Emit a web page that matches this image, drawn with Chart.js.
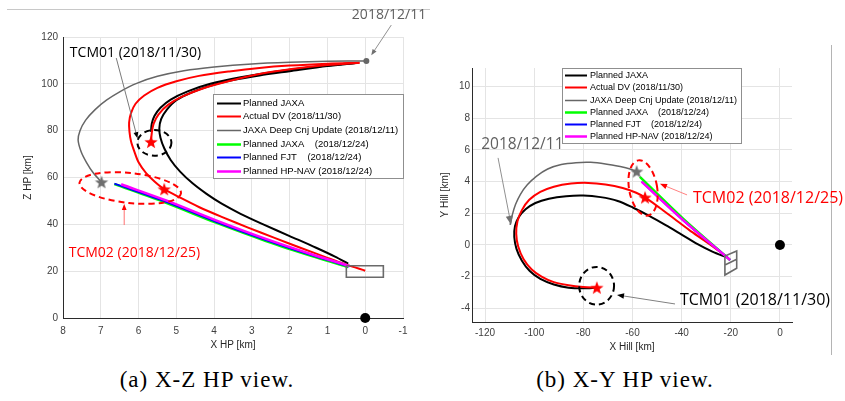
<!DOCTYPE html>
<html>
<head>
<meta charset="utf-8">
<script src="https://cdn.jsdelivr.net/npm/chart.js@4.4.0/dist/chart.umd.min.js"></script>
<style>
  html, body { margin: 0; padding: 0; background: #fff; }
  body { width: 845px; height: 401px; position: relative; overflow: hidden; }
  #wrapA { position: absolute; left: 0; top: 0; width: 425px; height: 365px; }
  #wrapB { position: absolute; left: 425px; top: 0; width: 420px; height: 365px; }
  .rule-h { position: absolute; left: 7px; top: 9px; width: 423px; height: 1px; background: #c8c8c8; }
  .rule-v { position: absolute; left: 831px; top: 45px; width: 1px; height: 310px; background: #b4b4b4; }
  .cap { position: absolute; top: 368px; width: 300px; line-height: 24px; text-align: center;
         font-family: "Liberation Serif", "DejaVu Serif", serif; font-size: 23px; letter-spacing: 1px; color: #000; }
</style>
</head>
<body>
<div class="rule-h"></div>
<div class="rule-v"></div>
<div id="wrapA"><canvas id="chartXZ" width="425" height="365"></canvas></div>
<div id="wrapB"><canvas id="chartXY" width="420" height="365"></canvas></div>
<div class="cap" style="left:57px">(a) X-Z HP view.</div>
<div class="cap" style="left:475px">(b) X-Y HP view.</div>
<script>
// legend rows (same order in both views)
const seriesNames = ['Planned JAXA', 'Actual DV (2018/11/30)', 'JAXA Deep Cnj Update (2018/12/11)',
  'Planned JAXA    (2018/12/24)', 'Planned FJT    (2018/12/24)', 'Planned HP-NAV (2018/12/24)'];
const seriesColors = ['#000000', '#ff0000', '#666666', '#00ff00', '#0000ff', '#ff00ff'];
const seriesWidths = [2, 2, 1.5, 2.5, 2, 2.5];

// ---- X-Z HP view, points are [X HP, Z HP] in km ----
const xzPlanJaxaUp = [[5.67,79.5],[5.65,83],[5.58,86.3],[5.42,89.8],[5.15,93.3],[4.7,96.8],[4.1,100],
  [3.3,102.8],[2.4,105.2],[1.5,107],[0.8,108.2],[0.25,108.9]];
const xzPlanJaxaDown = [[0.25,108.9],[1,107.6],[2,105.4],[2.8,103.6],[3.5,101.6],[4.1,99.2],[4.6,96.3],
  [5.0,93],[5.25,89],[5.4,85],[5.45,81],[5.42,77],[5.32,72.5],[5.15,67.5],[4.9,62.5],[4.57,57.5],
  [4.2,53],[3.8,48.8],[3.3,44.5],[2.7,40],[2.0,35],[1.3,30],[0.8,26.2],[0.45,23.2]];
const xzActualUp = [[5.67,75.2],[5.65,79],[5.6,83],[5.47,87],[5.22,91],[4.85,94.5],[4.3,98],
  [3.6,101.2],[2.8,104.2],[1.9,106.4],[1.0,108],[0.15,109]];
const xzActualDown = [[0.15,109],[1,108.6],[2,107.8],[2.8,106.8],[3.6,105.3],[4.4,103.4],[5.0,101.1],
  [5.5,98.3],[5.85,95],[6.08,91.5],[6.2,87.5],[6.25,83.5],[6.24,79.5],[6.2,75.5],[6.12,71.5],[6.0,66.5],
  [5.8,61.9],[5.57,58.2],[5.32,55],[4.9,51.4],[4.39,47.3],[3.8,43.2],[3.1,38.6],[2.4,34.2],[1.7,29.9],
  [1.0,25.7],[0.5,22.8],[0,20.2]];
const xzDeepCnj = [[-0.03,109.8],[1,109.6],[2,109.2],[3,108.5],[4,107.2],[4.8,105.6],[5.5,103.2],
  [6.05,100.2],[6.5,96.6],[6.85,93],[7.15,89],[7.4,84.5],[7.55,80],[7.6,76],[7.52,71],[7.38,66.5],
  [7.2,62],[6.98,58]];
const xzJaxa1224 = [[6.64,57.2],[5.27,49.2],[3.95,40.7],[2.63,32.9],[1.3,25.9],[0.45,21.8]];
const xzFjt1224 = [[6.64,57.4],[5.27,49.6],[3.95,41.1],[2.63,33.3],[1.3,26.2],[0.42,22.0]];
const xzHpnav1224 = [[6.46,57.1],[5.27,50.2],[3.95,41.7],[2.63,33.8],[1.3,26.6],[0.42,22.2]];
const xzTargetBox = [[0.5,22.3],[-0.48,22.3],[-0.48,17.4],[0.5,17.4],[0.5,22.3]];
const xzTcmStars = [[5.67,75.2],[5.32,55.0]];
const xzGrayStar = [[6.98,58.0]];
const xzStartDot = [[-0.03,109.8]];
const xzOrigin = [[0,0]];

// ---- X-Y HP view, points are [X Hill, Y Hill] in km ----
const xyPlanJaxa = [[-74.5,-2.7],[-80,-2.74],[-86,-2.7],[-92,-2.5],[-97.5,-2.15],[-101.8,-1.65],[-105,-1.0],
  [-107.2,-0.25],[-108.1,0.5],[-107.8,1.2],[-106.3,1.75],[-103.5,2.25],[-99.5,2.65],[-94,2.92],[-87,3.08],
  [-80,3.12],[-73,3.02],[-66,2.78],[-59.7,2.35],[-53,1.82],[-46.5,1.25],[-40,0.65],[-33.5,0.05],
  [-27.5,-0.42],[-21.7,-0.78]];
const xyActual = [[-74.5,-2.7],[-80,-2.66],[-86,-2.55],[-92,-2.35],[-97,-2.0],[-101,-1.55],[-104.3,-0.9],
  [-106.5,-0.1],[-107.3,0.7],[-106.8,1.5],[-105,2.2],[-102,2.85],[-97.5,3.35],[-92,3.68],[-85,3.88],
  [-78,3.92],[-71,3.82],[-64,3.6],[-58.5,3.3],[-54.9,3.0],[-49,2.35],[-43,1.65],[-37,0.95],[-31,0.3],
  [-26,-0.25],[-21.7,-0.74]];
const xyDeepCnj = [[-109.8,1.27],[-108.9,1.9],[-107.6,2.55],[-105.6,3.2],[-102.8,3.8],[-99,4.35],[-94.5,4.8],
  [-89,5.08],[-83,5.2],[-77,5.22],[-71,5.12],[-65,4.95],[-61,4.8],[-58.3,4.64]];
const xyJaxa1224 = [[-57,4.3],[-39.3,1.65],[-20.3,-0.95]];
const xyFjt1224 = [[-56.3,4.0],[-39.3,1.55],[-20.3,-0.95]];
const xyHpnav1224 = [[-56.3,4.0],[-39.3,1.55],[-20.3,-0.95]];
const xyTargetBox = [[-22.4,-1.27],[-22.4,-0.70],[-17.6,-0.38],[-17.6,-1.47],[-22.4,-1.90],[-22.4,-1.27],[-17.6,-0.91]];
const xyTcmStars = [[-74.5,-2.7],[-54.9,3.0]];
const xyGrayStar = [[-58.3,4.64]];
const xyOrigin = [[0,0]];

Chart.defaults.font.family = 'Liberation Sans, Arial, sans-serif';

function starImage(color, r) {
  const c = document.createElement('canvas');
  const s = Math.ceil(r * 2 + 2);
  c.width = s; c.height = s;
  const g = c.getContext('2d');
  g.translate(s / 2, s / 2 + 0.6);
  g.beginPath();
  for (let i = 0; i < 10; i++) {
    const rr = i % 2 ? r * 0.42 : r;
    const a = -Math.PI / 2 + i * Math.PI / 5;
    g.lineTo(rr * Math.cos(a), rr * Math.sin(a));
  }
  g.closePath();
  g.fillStyle = color;
  g.fill();
  return c;
}
const redStar = starImage('#ff0000', 7);
const grayStar = starImage('#6e6e6e', 7);

const xyPts = arr => arr.map(p => ({ x: p[0], y: p[1] }));

function curve(pts, color, width, tension) {
  return { data: xyPts(pts), showLine: true, borderColor: color, borderWidth: width,
    pointRadius: 0, tension: tension === undefined ? 0.3 : tension, fill: false };
}
function marks(pts, style, radius, color) {
  return { data: xyPts(pts), showLine: false, pointStyle: style, pointRadius: radius,
    backgroundColor: color, borderColor: color, borderWidth: 0, clip: false };
}

function axis(o) {
  return {
    type: 'linear', position: o.pos, min: o.min, max: o.max, reverse: !!o.reverse,
    afterFit: s => { if (o.pos === 'bottom') s.height = o.size; else s.width = o.size; },
    grid: { color: '#e4e4e4', drawTicks: false },
    border: { display: true, color: '#2b2b2b', width: 1 },
    ticks: { stepSize: o.step, includeBounds: false, padding: o.pad, color: '#404040',
      font: { size: 10 }, maxRotation: 0, autoSkip: false },
    title: { display: true, text: o.title, color: '#262626', font: { size: 10 }, padding: o.titlePad }
  };
}

// boxed legend drawn inside the plot
const boxLegend = {
  id: 'boxLegend',
  afterDatasetsDraw(chart, args, o) {
    const ctx = chart.ctx;
    ctx.save();
    ctx.fillStyle = '#fff';
    ctx.fillRect(o.x, o.y, o.w, o.h);
    ctx.strokeStyle = '#8f8f8f';
    ctx.lineWidth = 1;
    ctx.strokeRect(o.x + 0.5, o.y + 0.5, o.w, o.h);
    ctx.font = o.font;
    ctx.textBaseline = 'middle';
    seriesNames.forEach((name, i) => {
      const yy = Math.round(o.y + o.first + i * o.step) + 0.5;
      ctx.strokeStyle = seriesColors[i];
      ctx.lineWidth = seriesWidths[i];
      ctx.beginPath();
      ctx.moveTo(o.x0, yy);
      ctx.lineTo(o.x1, yy);
      ctx.stroke();
      ctx.fillStyle = '#000';
      ctx.fillText(name, o.tx, yy);
    });
    ctx.restore();
  }
};

// dashed rings, callout arrows and labels, placed in data coordinates
const notes = {
  id: 'notes',
  afterDatasetsDraw(chart, args, o) {
    const { ctx, scales: { x, y } } = chart;
    const px = p => [x.getPixelForValue(p[0]), y.getPixelForValue(p[1])];
    ctx.save();
    (o.rings || []).forEach(e => {
      const [cx, cy] = px(e.at);
      const rx = Math.abs(x.getPixelForValue(e.at[0] + e.rx) - cx);
      const ry = Math.abs(y.getPixelForValue(e.at[1] + e.ry) - cy);
      ctx.beginPath();
      ctx.setLineDash([6, 4]);
      ctx.lineWidth = 2;
      ctx.strokeStyle = e.color;
      ctx.ellipse(cx, cy, rx, ry, e.rot * Math.PI / 180, 0, Math.PI * 2);
      ctx.stroke();
    });
    ctx.setLineDash([]);
    (o.arrows || []).forEach(a => {
      const [x0, y0] = px(a.from);
      const [x1, y1] = px(a.to);
      const ang = Math.atan2(y1 - y0, x1 - x0);
      const L = a.head, W = a.head * 0.4;
      ctx.strokeStyle = a.line;
      ctx.lineWidth = 1;
      ctx.beginPath();
      ctx.moveTo(x0, y0);
      ctx.lineTo(x1 - Math.cos(ang) * L * 0.7, y1 - Math.sin(ang) * L * 0.7);
      ctx.stroke();
      ctx.fillStyle = a.tip;
      ctx.beginPath();
      ctx.moveTo(x1, y1);
      ctx.lineTo(x1 - Math.cos(ang) * L - Math.sin(ang) * W, y1 - Math.sin(ang) * L + Math.cos(ang) * W);
      ctx.lineTo(x1 - Math.cos(ang) * L + Math.sin(ang) * W, y1 - Math.sin(ang) * L - Math.cos(ang) * W);
      ctx.closePath();
      ctx.fill();
    });
    (o.labels || []).forEach(t => {
      const [tx, ty] = px(t.at);
      ctx.font = t.size + 'px "Open Sans", sans-serif';
      ctx.fillStyle = t.color;
      ctx.textAlign = t.align || 'center';
      ctx.textBaseline = 'middle';
      ctx.fillText(t.text, tx, ty);
    });
    ctx.restore();
  }
};

function viewDatasets(v) {
  return [
    marks(v.origin, 'circle', 5, '#000'),
    marks(v.tcm, redStar, 7, '#ff0000'),
    marks(v.gstar, grayStar, 7, '#6e6e6e'),
    ...(v.startDot ? [marks(v.startDot, 'circle', 3, '#666666')] : []),
    curve(v.box, '#6a6a6a', 1.6, 0),
    curve(v.hpnav, seriesColors[5], seriesWidths[5]),
    curve(v.fjt, seriesColors[4], seriesWidths[4]),
    curve(v.jaxa2, seriesColors[3], seriesWidths[3]),
    curve(v.deep, seriesColors[2], seriesWidths[2]),
    ...v.actual.map(c => curve(c, seriesColors[1], seriesWidths[1])),
    ...v.plan.map(c => curve(c, seriesColors[0], seriesWidths[0]))
  ];
}

new Chart(document.getElementById('chartXZ'), {
  type: 'scatter',
  data: { datasets: viewDatasets({
    origin: xzOrigin, tcm: xzTcmStars, gstar: xzGrayStar, startDot: xzStartDot, box: xzTargetBox,
    hpnav: xzHpnav1224, fjt: xzFjt1224, jaxa2: xzJaxa1224, deep: xzDeepCnj,
    actual: [xzActualUp, xzActualDown], plan: [xzPlanJaxaUp, xzPlanJaxaDown]
  }) },
  options: {
    responsive: false, animation: false, devicePixelRatio: 1,
    layout: { padding: { left: 0, top: 37, right: 22, bottom: 0 } },
    scales: {
      x: axis({ pos: 'bottom', min: -1, max: 8, step: 1, reverse: true, size: 47, pad: 7,
        title: 'X HP [km]', titlePad: { top: 0, bottom: 14 } }),
      y: axis({ pos: 'left', min: 0, max: 120, step: 20, size: 63, pad: 5,
        title: 'Z HP [km]', titlePad: { top: 22, bottom: 0 } })
    },
    plugins: {
      legend: { display: false }, tooltip: { enabled: false },
      boxLegend: { x: 213, y: 94, w: 190, h: 84, first: 8.7, step: 13.6, x0: 217, x1: 241, tx: 243,
        font: '9.5px "Liberation Sans", Arial, sans-serif' },
      notes: {
        rings: [
          { at: [5.58, 74.8], rx: 0.45, ry: 5.5, rot: 0, color: '#000' },
          { at: [6.22, 55.5], rx: 1.35, ry: 6.4, rot: 6, color: '#ff0000' }
        ],
        arrows: [
          { from: [6.59, 111.0], to: [6.03, 76.8], line: '#7a7a7a', tip: '#000', head: 6 },
          { from: [-0.69, 125.1], to: [-0.16, 112.2], line: '#909090', tip: '#707070', head: 6 },
          { from: [6.38, 39.7], to: [6.38, 48.7], line: '#ff7070', tip: '#ff0000', head: 6 }
        ],
        labels: [
          { text: 'TCM01 (2018/11/30)', at: [6.08, 113.1], color: '#000', size: 14 },
          { text: '2018/12/11', at: [-0.63, 129.3], color: '#606060', size: 14 },
          { text: 'TCM02 (2018/12/25)', at: [6.11, 27.7], color: '#ff0000', size: 14 }
        ]
      }
    }
  },
  plugins: [boxLegend, notes]
});

new Chart(document.getElementById('chartXY'), {
  type: 'scatter',
  data: { datasets: viewDatasets({
    origin: xyOrigin, tcm: xyTcmStars, gstar: xyGrayStar, box: xyTargetBox,
    hpnav: xyHpnav1224, fjt: xyFjt1224, jaxa2: xyJaxa1224, deep: xyDeepCnj,
    actual: [xyActual], plan: [xyPlanJaxa]
  }) },
  options: {
    responsive: false, animation: false, devicePixelRatio: 1,
    layout: { padding: { left: 0, top: 68, right: 53, bottom: 0 } },
    scales: {
      x: axis({ pos: 'bottom', min: -125.3, max: 4.9, step: 20, size: 43, pad: 5,
        title: 'X Hill [km]', titlePad: { top: 0, bottom: 12 } }),
      y: axis({ pos: 'left', min: -4.87, max: 11.18, step: 2, size: 47, pad: 2,
        title: 'Y Hill [km]', titlePad: { top: 14, bottom: 0 } })
    },
    plugins: {
      legend: { display: false }, tooltip: { enabled: false },
      boxLegend: { x: 137, y: 68, w: 179, h: 75, first: 7.3, step: 12.1, x0: 140, x1: 162, tx: 165,
        font: '9px "Liberation Sans", Arial, sans-serif' },
      notes: {
        rings: [
          { at: [-74.6, -2.58], rx: 7.1, ry: 1.19, rot: 0, color: '#000' },
          { at: [-55.7, 3.6], rx: 5.7, ry: 1.77, rot: -10, color: '#ff0000' }
        ],
        arrows: [
          { from: [-114.7, 5.5], to: [-109.4, 1.27], line: '#909090', tip: '#707070', head: 9 },
          { from: [-37.8, 3.16], to: [-48.8, 3.86], line: '#ff8080', tip: '#ff0000', head: 7 },
          { from: [-42.7, -3.73], to: [-66.3, -3.16], line: '#808080', tip: '#000', head: 7 }
        ],
        labels: [
          { text: '2018/12/11', at: [-104.8, 6.33], color: '#606060', size: 15.5 },
          { text: 'TCM02 (2018/12/25)', at: [-35.4, 2.91], color: '#ff0000', size: 16, align: 'left' },
          { text: 'TCM01 (2018/11/30)', at: [-40.7, -3.48], color: '#000', size: 16, align: 'left' }
        ]
      }
    }
  },
  plugins: [boxLegend, notes]
});
</script>
</body>
</html>
